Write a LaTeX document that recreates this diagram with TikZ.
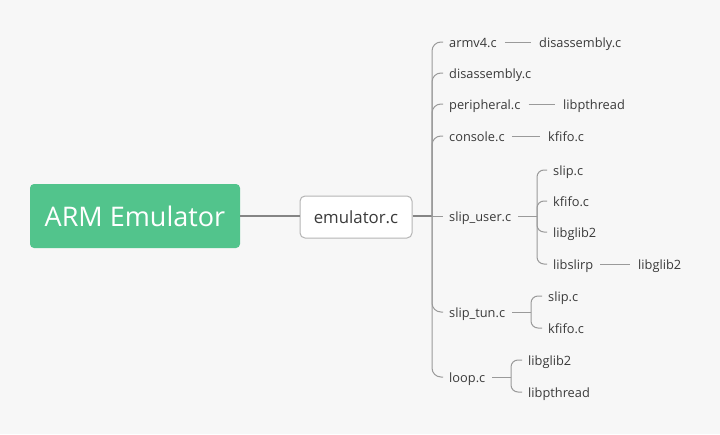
\documentclass[tikz,border=0pt]{standalone}
\usepackage{fontspec}
\setmainfont{Open Sans}
\definecolor{bg}{HTML}{F7F7F7}
\definecolor{rootgreen}{HTML}{52C48C}
\definecolor{txt}{HTML}{3A3A3A}
\definecolor{ln}{HTML}{9A9A9A}
\definecolor{lnd}{HTML}{858585}
\definecolor{bord}{HTML}{B5B5B5}
\begin{document}
\begin{tikzpicture}[x=1pt,y=-1pt,
  rootbox/.style={fill=rootgreen,rounded corners=4pt,minimum width=210pt,minimum height=64pt,inner sep=0pt,text=white,font=\fontsize{27}{30}\selectfont},
  midbox/.style={fill=white,draw=bord,line width=1pt,rounded corners=5pt,minimum width=112pt,minimum height=42pt,inner sep=0pt,text=txt,font=\fontsize{16.8}{20}\selectfont},
  leaf/.style={anchor=west,inner xsep=6pt,inner ysep=0pt,text height=10pt,text depth=0pt,text=txt,font=\fontsize{12.8}{15}\selectfont},
  thick link/.style={draw=lnd,line width=2pt},
  thin link/.style={draw=ln,line width=1pt},
  curve link/.style={draw=ln,line width=1pt,rounded corners=9pt},
  brace link/.style={draw=ln,line width=1pt,rounded corners=7pt}]
\fill[bg] (0,0) rectangle (720,434);
\useasboundingbox (0,0) rectangle (720,434);

\node[rootbox] (root) at (135,216) {ARM Emulator};
\node[midbox] (emu) at (356,217) {emulator.c};
\draw[thick link] (root.east) -- (emu.west |- root.east);
\coordinate (sp) at (432,216);
\draw[thick link] (emu.east |- sp) -- (sp);

% first level
\node[leaf] (armv) at (443,42) {armv4.c};
\node[leaf] (dis) at (443,73) {disassembly.c};
\node[leaf] (per) at (443,104) {peripheral.c};
\node[leaf] (con) at (443,136) {console.c};
\node[leaf] (su) at (443,216) {slip\_user.c};
\node[leaf] (st) at (443,312) {slip\_tun.c};
\node[leaf] (lp) at (443,377) {loop.c};
\foreach \n in {armv,dis,per,con,st,lp} \draw[curve link] (sp) |- (\n.west);
\draw[thin link] (sp) -- (su.west);

% second level singles
\node[leaf,inner xsep=8pt] (armvd) at (531,42) {disassembly.c};
\draw[thin link] ([xshift=2pt]armv.east) -- (armvd.west);
\node[leaf,inner xsep=8pt] (perl) at (555,104) {libpthread};
\draw[thin link] ([xshift=2pt]per.east) -- (perl.west);
\node[leaf,inner xsep=8pt] (conk) at (540,136) {kfifo.c};
\draw[thin link] ([xshift=1pt]con.east) -- (conk.west);

% slip_user brace
\coordinate (suj) at (537,216);
\draw[thin link] ([xshift=1pt]su.east) -- (suj);
\node[leaf] (su1) at (547,170) {slip.c};
\node[leaf] (su2) at (547,201) {kfifo.c};
\node[leaf] (su3) at (547,232) {libglib2};
\node[leaf] (su4) at (547,264) {libslirp};
\foreach \n in {su1,su2,su3,su4} \draw[brace link] (suj) |- (\n.west);
\node[leaf,inner xsep=8pt] (su4l) at (630,264) {libglib2};
\draw[thin link] ([xshift=1pt]su4.east) -- (su4l.west);

% slip_tun brace
\coordinate (stj) at (531,312);
\draw[thin link] ([xshift=1pt]st.east) -- (stj);
\node[leaf] (st1) at (542,296) {slip.c};
\node[leaf] (st2) at (542,328) {kfifo.c};
\foreach \n in {st1,st2} \draw[brace link] (stj) |- (\n.west);

% loop brace
\coordinate (lpj) at (511,377);
\draw[thin link] ([xshift=1pt]lp.east) -- (lpj);
\node[leaf] (lp1) at (522,360) {libglib2};
\node[leaf] (lp2) at (522,392) {libpthread};
\foreach \n in {lp1,lp2} \draw[brace link] (lpj) |- (\n.west);
\end{tikzpicture}
\end{document}
